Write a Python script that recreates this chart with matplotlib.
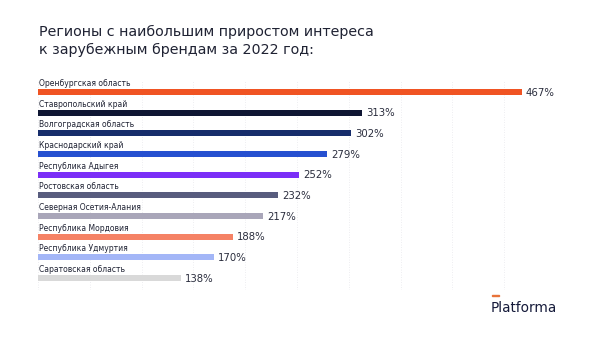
import matplotlib
matplotlib.use("Agg")
import matplotlib.pyplot as plt

regions = ["Оренбургская область", "Ставропольский край", "Волгоградская область",
           "Краснодарский край", "Республика Адыгея", "Ростовская область",
           "Северная Осетия-Алания", "Республика Мордовия", "Республика Удмуртия",
           "Саратовская область"]
values = [467, 313, 302, 279, 252, 232, 217, 188, 170, 138]
colors = ["#f05423", "#0f1633", "#172d6b", "#2650d0", "#7b2ff7", "#585c7e",
          "#a9a6b9", "#f58265", "#a3b6f7", "#d9d9d9"]
title = "Регионы с наибольшим приростом интереса\nк зарубежным брендам за 2022 год:"

W, H = 600, 337
fig = plt.figure(figsize=(6, 3.37), dpi=100)
fig.patch.set_facecolor("white")

left_px, right_px = 38, 556
top_px, bot_px = 80, 290
ax = fig.add_axes([left_px / W, 1 - bot_px / H, (right_px - left_px) / W, (bot_px - top_px) / H])
ax.set_xlim(0, 500)
ax.set_ylim(9.58, -0.58)
ax.axis("off")

for gx in range(0, 501, 50):
    ax.axvline(gx, color="#e8e8ec", lw=0.6, ls=(0, (1, 2)), zorder=0)

ys = list(range(len(values)))
ax.barh(ys, values, height=0.3, color=colors, zorder=2)
for y, name, v in zip(ys, regions, values):
    ax.text(0.5, y - 0.2, name, fontsize=5.5, color="#1f2233", ha="left", va="bottom",
            family="DejaVu Sans")
    ax.text(v + 4, y + 0.03, f"{v}%", fontsize=7.3, color="#2a2d3d", ha="left", va="center",
            family="DejaVu Sans")

fig.text(39 / W, 1 - 25 / H, title, fontsize=10.3, color="#1f2233", ha="left", va="top",
         linespacing=1.35, family="DejaVu Sans")

fig.text(491 / W, 1 - 308 / H, "Platforma", fontsize=9.8, color="#151a3a", ha="left",
         va="center", family="DejaVu Sans", fontweight="medium")
fig.patches.append(plt.Rectangle((492 / W, 1 - 296 / H), 7 / W, 1.3 / H,
                                 transform=fig.transFigure, color="#e8733a"))

fig.savefig("out.png", dpi=100, facecolor="white")
